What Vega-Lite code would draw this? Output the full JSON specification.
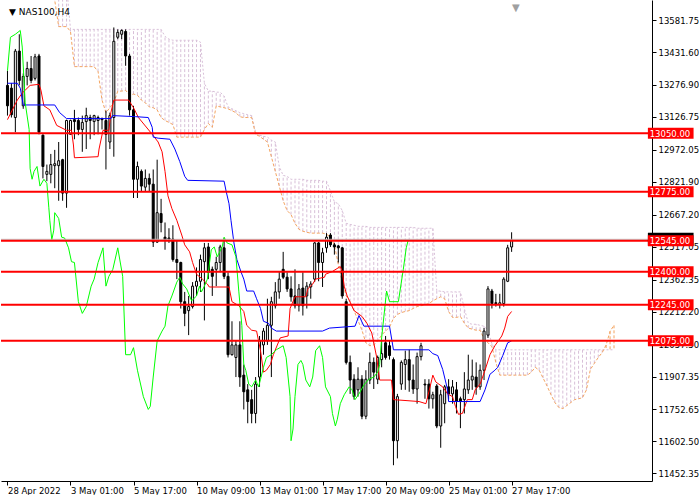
{
"$schema": "https://vega.github.io/schema/vega-lite/v6.json",
"width": 651, "height": 481, "padding": 0, "autosize": {"type": "pad"},
"background": "#FFFFFF",
"config": {"view": {"stroke": null}, "font": "DejaVu Sans"},
"resolve": {"axis": {"x": "independent", "y": "independent"}},
"datasets": {
"candles": [
{"i":0,"o":13275,"h":13344,"l":13133,"c":13179},
{"i":1,"o":13262,"h":13285,"l":13124,"c":13137},
{"i":2,"o":13124,"h":13446,"l":13055,"c":13436},
{"i":3,"o":13436,"h":13515,"l":13275,"c":13298},
{"i":4,"o":13179,"h":13331,"l":13165,"c":13317},
{"i":5,"o":13317,"h":13386,"l":13275,"c":13354},
{"i":6,"o":13354,"h":13413,"l":13285,"c":13298},
{"i":7,"o":13308,"h":13423,"l":13298,"c":13409},
{"i":8,"o":13413,"h":13423,"l":13045,"c":13055},
{"i":9,"o":13041,"h":13045,"l":12838,"c":12894},
{"i":10,"o":12857,"h":12903,"l":12825,"c":12871},
{"i":11,"o":12857,"h":12953,"l":12815,"c":12903},
{"i":12,"o":12898,"h":12972,"l":12792,"c":12907},
{"i":13,"o":12898,"h":13009,"l":12733,"c":12921},
{"i":14,"o":12926,"h":12930,"l":12733,"c":12769},
{"i":15,"o":12769,"h":13114,"l":12700,"c":13110},
{"i":16,"o":13045,"h":13114,"l":13045,"c":13110},
{"i":17,"o":13114,"h":13160,"l":13022,"c":13105},
{"i":18,"o":13110,"h":13124,"l":13041,"c":13068},
{"i":19,"o":13068,"h":13133,"l":12963,"c":13101},
{"i":20,"o":13105,"h":13170,"l":12976,"c":13133},
{"i":21,"o":13124,"h":13137,"l":13022,"c":13110},
{"i":22,"o":13105,"h":13137,"l":13041,"c":13133},
{"i":23,"o":13110,"h":13133,"l":13045,"c":13124},
{"i":24,"o":13119,"h":13124,"l":13068,"c":13114},
{"i":25,"o":13110,"h":13156,"l":12880,"c":13045},
{"i":26,"o":13009,"h":13147,"l":12976,"c":13133},
{"i":27,"o":13124,"h":13547,"l":12940,"c":13482},
{"i":28,"o":13501,"h":13538,"l":13492,"c":13524},
{"i":29,"o":13515,"h":13538,"l":13492,"c":13533},
{"i":30,"o":13528,"h":13538,"l":13367,"c":13413},
{"i":31,"o":13413,"h":13423,"l":13133,"c":13160},
{"i":32,"o":13160,"h":13179,"l":12746,"c":12834},
{"i":33,"o":12834,"h":12917,"l":12746,"c":12894},
{"i":34,"o":12871,"h":12880,"l":12779,"c":12802},
{"i":35,"o":12797,"h":12880,"l":12779,"c":12838},
{"i":36,"o":12838,"h":12861,"l":12779,"c":12811},
{"i":37,"o":12811,"h":12880,"l":12516,"c":12539},
{"i":38,"o":12539,"h":12926,"l":12535,"c":12677},
{"i":39,"o":12673,"h":12742,"l":12585,"c":12631},
{"i":40,"o":12562,"h":12631,"l":12503,"c":12549},
{"i":41,"o":12558,"h":12604,"l":12535,"c":12553},
{"i":42,"o":12553,"h":12618,"l":12447,"c":12457},
{"i":43,"o":12457,"h":12549,"l":12365,"c":12443},
{"i":44,"o":12443,"h":12447,"l":12227,"c":12259},
{"i":45,"o":12259,"h":12305,"l":12144,"c":12204},
{"i":46,"o":12217,"h":12286,"l":12102,"c":12236},
{"i":47,"o":12236,"h":12351,"l":12227,"c":12332},
{"i":48,"o":12332,"h":12420,"l":12286,"c":12355},
{"i":49,"o":12355,"h":12480,"l":12305,"c":12457},
{"i":50,"o":12447,"h":12535,"l":12171,"c":12512},
{"i":51,"o":12516,"h":12535,"l":12365,"c":12397},
{"i":52,"o":12411,"h":12424,"l":12286,"c":12378},
{"i":53,"o":12411,"h":12470,"l":12332,"c":12443},
{"i":54,"o":12443,"h":12526,"l":12397,"c":12516},
{"i":55,"o":12512,"h":12558,"l":12365,"c":12378},
{"i":56,"o":12378,"h":12397,"l":11997,"c":12010},
{"i":57,"o":12010,"h":12167,"l":12006,"c":12056},
{"i":58,"o":11997,"h":12075,"l":11905,"c":12056},
{"i":59,"o":12056,"h":12167,"l":11859,"c":11905},
{"i":60,"o":11914,"h":11964,"l":11753,"c":11836},
{"i":61,"o":11845,"h":11872,"l":11688,"c":11790},
{"i":62,"o":11799,"h":11845,"l":11688,"c":11734},
{"i":63,"o":11734,"h":11905,"l":11688,"c":11872},
{"i":64,"o":11905,"h":12098,"l":11859,"c":12075},
{"i":65,"o":12056,"h":12135,"l":12010,"c":12121},
{"i":66,"o":12075,"h":12273,"l":12056,"c":12148},
{"i":67,"o":12148,"h":12282,"l":11905,"c":12259},
{"i":68,"o":12240,"h":12351,"l":12227,"c":12305},
{"i":69,"o":12305,"h":12401,"l":12273,"c":12365},
{"i":70,"o":12411,"h":12493,"l":12365,"c":12374},
{"i":71,"o":12374,"h":12397,"l":12305,"c":12319},
{"i":72,"o":12319,"h":12378,"l":12259,"c":12282},
{"i":73,"o":12286,"h":12411,"l":12227,"c":12240},
{"i":74,"o":12240,"h":12342,"l":12213,"c":12319},
{"i":75,"o":12323,"h":12397,"l":12194,"c":12240},
{"i":76,"o":12286,"h":12351,"l":12227,"c":12332},
{"i":77,"o":12328,"h":12355,"l":12273,"c":12342},
{"i":78,"o":12365,"h":12539,"l":12351,"c":12535},
{"i":79,"o":12535,"h":12539,"l":12355,"c":12443},
{"i":80,"o":12443,"h":12512,"l":12328,"c":12489},
{"i":81,"o":12512,"h":12581,"l":12489,"c":12562},
{"i":82,"o":12572,"h":12581,"l":12516,"c":12526},
{"i":83,"o":12526,"h":12535,"l":12480,"c":12516},
{"i":84,"o":12521,"h":12526,"l":12443,"c":12512},
{"i":85,"o":12512,"h":12516,"l":12273,"c":12286},
{"i":86,"o":12259,"h":12273,"l":11964,"c":11974},
{"i":87,"o":11974,"h":12006,"l":11826,"c":11891},
{"i":88,"o":11895,"h":11918,"l":11799,"c":11813},
{"i":89,"o":11845,"h":11951,"l":11813,"c":11895},
{"i":90,"o":11895,"h":11914,"l":11707,"c":11721},
{"i":91,"o":11721,"h":11937,"l":11707,"c":11895},
{"i":92,"o":11891,"h":12020,"l":11872,"c":11974},
{"i":93,"o":11974,"h":11997,"l":11849,"c":11928},
{"i":94,"o":11895,"h":12006,"l":11872,"c":11997},
{"i":95,"o":11987,"h":12075,"l":11951,"c":12015},
{"i":96,"o":12066,"h":12098,"l":11987,"c":11997},
{"i":97,"o":12052,"h":12075,"l":11987,"c":12006},
{"i":98,"o":11987,"h":11997,"l":11491,"c":11606},
{"i":99,"o":11606,"h":11826,"l":11523,"c":11813},
{"i":100,"o":11872,"h":11983,"l":11845,"c":11974},
{"i":101,"o":11964,"h":12029,"l":11845,"c":11987},
{"i":102,"o":11987,"h":12033,"l":11836,"c":11891},
{"i":103,"o":11891,"h":11964,"l":11826,"c":11849},
{"i":104,"o":11849,"h":12020,"l":11780,"c":12001},
{"i":105,"o":12001,"h":12066,"l":11983,"c":12052},
{"i":106,"o":11872,"h":11895,"l":11803,"c":11868},
{"i":107,"o":11872,"h":11895,"l":11757,"c":11803},
{"i":108,"o":11803,"h":11836,"l":11757,"c":11822},
{"i":109,"o":11863,"h":11872,"l":11665,"c":11675},
{"i":110,"o":11675,"h":11845,"l":11573,"c":11822},
{"i":111,"o":11780,"h":11868,"l":11688,"c":11859},
{"i":112,"o":11859,"h":11895,"l":11799,"c":11826},
{"i":113,"o":11826,"h":11891,"l":11780,"c":11859},
{"i":114,"o":11845,"h":11882,"l":11734,"c":11790},
{"i":115,"o":11803,"h":11813,"l":11665,"c":11790},
{"i":116,"o":11799,"h":11928,"l":11734,"c":11849},
{"i":117,"o":11845,"h":12010,"l":11826,"c":11891},
{"i":118,"o":11891,"h":11987,"l":11845,"c":11909},
{"i":119,"o":11905,"h":11974,"l":11822,"c":11859},
{"i":120,"o":11859,"h":11964,"l":11845,"c":11937},
{"i":121,"o":11937,"h":12135,"l":11891,"c":12121},
{"i":122,"o":12102,"h":12332,"l":12089,"c":12319},
{"i":123,"o":12309,"h":12319,"l":12227,"c":12250},
{"i":124,"o":12254,"h":12296,"l":12236,"c":12250},
{"i":125,"o":12245,"h":12296,"l":12227,"c":12254},
{"i":126,"o":12250,"h":12374,"l":12236,"c":12365},
{"i":127,"o":12355,"h":12526,"l":12351,"c":12512},
{"i":128,"o":12516,"h":12585,"l":12493,"c":12549}
],
"tenkan": [
{"i":0,"p":13114},{"i":2.5,"p":13206},{"i":3.75,"p":13239},{"i":5.75,"p":13275},{"i":8,"p":13280},{"i":8.5,"p":13252},{"i":9.25,"p":13179},{"i":10.75,"p":13160},{"i":12.5,"p":13087},{"i":15,"p":13064},{"i":16.25,"p":13064},{"i":16.75,"p":12995},{"i":17,"p":12935},{"i":23,"p":12940},{"i":23.25,"p":12976},{"i":24.25,"p":13064},{"i":25.75,"p":13064},{"i":26.25,"p":13147},{"i":27,"p":13206},{"i":30.75,"p":13206},{"i":32,"p":13170},{"i":33.25,"p":13124},{"i":36.75,"p":13045},{"i":38.25,"p":13009},{"i":39.25,"p":12963},{"i":40,"p":12871},{"i":40.75,"p":12756},{"i":41.75,"p":12696},{"i":43,"p":12641},{"i":44.25,"p":12572},{"i":45,"p":12526},{"i":46.25,"p":12493},{"i":47,"p":12443},{"i":48,"p":12388},{"i":49.5,"p":12365},{"i":50.75,"p":12342},{"i":51.25,"p":12328},{"i":56.25,"p":12328},{"i":57,"p":12259},{"i":58.75,"p":12240},{"i":60,"p":12213},{"i":60.75,"p":12148},{"i":62,"p":12125},{"i":63.25,"p":12121},{"i":64.25,"p":12029},{"i":65,"p":11928},{"i":65.75,"p":11937},{"i":66.75,"p":11964},{"i":67.5,"p":12010},{"i":69.25,"p":12089},{"i":71.25,"p":12098},{"i":71.75,"p":12227},{"i":73,"p":12282},{"i":75.75,"p":12282},{"i":76.25,"p":12319},{"i":77.5,"p":12342},{"i":78.25,"p":12365},{"i":80.5,"p":12374},{"i":80.75,"p":12388},{"i":82.5,"p":12401},{"i":84.5,"p":12424},{"i":85,"p":12401},{"i":85.5,"p":12332},{"i":86.25,"p":12286},{"i":88,"p":12217},{"i":90,"p":12190},{"i":91.25,"p":12158},{"i":92.5,"p":12112},{"i":93.75,"p":11997},{"i":94.5,"p":11891},{"i":97.5,"p":11891},{"i":98,"p":11799},{"i":104.5,"p":11790},{"i":106.25,"p":11780},{"i":107,"p":11836},{"i":108,"p":11914},{"i":108.75,"p":11882},{"i":110.5,"p":11859},{"i":111.75,"p":11826},{"i":113,"p":11813},{"i":113.75,"p":11767},{"i":114.5,"p":11730},{"i":115.5,"p":11734},{"i":116.75,"p":11799},{"i":118,"p":11799},{"i":118.75,"p":11845},{"i":120,"p":11872},{"i":121.25,"p":11937},{"i":122.5,"p":12010},{"i":123.75,"p":12052},{"i":125.5,"p":12098},{"i":126.25,"p":12135},{"i":127,"p":12190},{"i":128,"p":12213}
],
"kijun": [
{"i":0,"p":13285},{"i":2.5,"p":13285},{"i":3.25,"p":13262},{"i":4,"p":13183},{"i":12,"p":13183},{"i":13.25,"p":13147},{"i":15,"p":13119},{"i":26.25,"p":13119},{"i":26.75,"p":13133},{"i":32.5,"p":13128},{"i":35.75,"p":13124},{"i":36.75,"p":13078},{"i":37,"p":13032},{"i":38.25,"p":13027},{"i":41.25,"p":13022},{"i":42.5,"p":12976},{"i":43.75,"p":12917},{"i":45,"p":12848},{"i":45.75,"p":12829},{"i":55,"p":12825},{"i":55.5,"p":12779},{"i":56.25,"p":12719},{"i":56.75,"p":12641},{"i":57.5,"p":12535},{"i":58.25,"p":12457},{"i":59.25,"p":12401},{"i":60,"p":12365},{"i":60.75,"p":12309},{"i":62.5,"p":12309},{"i":63.25,"p":12273},{"i":64.25,"p":12227},{"i":65,"p":12167},{"i":66.25,"p":12158},{"i":67,"p":12135},{"i":68.25,"p":12121},{"i":80,"p":12121},{"i":81.75,"p":12135},{"i":88.25,"p":12144},{"i":89.25,"p":12194},{"i":90.5,"p":12144},{"i":97,"p":12144},{"i":98,"p":12033},{"i":107,"p":12033},{"i":108,"p":12015},{"i":109.25,"p":12006},{"i":110.5,"p":11941},{"i":111.75,"p":11845},{"i":112,"p":11790},{"i":120,"p":11790},{"i":121.25,"p":11845},{"i":122.5,"p":11918},{"i":123.75,"p":11937},{"i":124.5,"p":11951},{"i":125.75,"p":12006},{"i":127,"p":12066},{"i":128,"p":12075}
],
"chikou": [
{"i":0,"p":13344},{"i":0.75,"p":13501},{"i":2,"p":13515},{"i":3.25,"p":13533},{"i":3.75,"p":13455},{"i":4.5,"p":13193},{"i":5.5,"p":13068},{"i":5.75,"p":12884},{"i":6.25,"p":12834},{"i":6.75,"p":12871},{"i":7.5,"p":12894},{"i":8.25,"p":12802},{"i":9.25,"p":12834},{"i":10,"p":12815},{"i":10.5,"p":12700},{"i":10.75,"p":12641},{"i":11.25,"p":12549},{"i":11.75,"p":12595},{"i":12,"p":12677},{"i":13,"p":12650},{"i":13.75,"p":12562},{"i":14.5,"p":12558},{"i":15.5,"p":12512},{"i":16.25,"p":12447},{"i":17,"p":12443},{"i":18,"p":12259},{"i":19,"p":12204},{"i":20,"p":12236},{"i":21.25,"p":12332},{"i":22,"p":12365},{"i":23,"p":12443},{"i":24.25,"p":12512},{"i":25,"p":12332},{"i":25.75,"p":12378},{"i":26.75,"p":12411},{"i":28,"p":12512},{"i":29.25,"p":12378},{"i":30,"p":12010},{"i":31.25,"p":12010},{"i":32,"p":12043},{"i":33,"p":11937},{"i":34.5,"p":11813},{"i":35.75,"p":11753},{"i":36.25,"p":11767},{"i":37,"p":11905},{"i":38,"p":12075},{"i":39.25,"p":12121},{"i":40,"p":12144},{"i":40.75,"p":12240},{"i":41.75,"p":12286},{"i":43,"p":12351},{"i":43.75,"p":12374},{"i":44.5,"p":12342},{"i":45.5,"p":12319},{"i":46.75,"p":12263},{"i":48,"p":12286},{"i":48.75,"p":12332},{"i":49.25,"p":12305},{"i":50,"p":12332},{"i":50.75,"p":12365},{"i":51.75,"p":12503},{"i":52.5,"p":12516},{"i":53.25,"p":12470},{"i":54.5,"p":12516},{"i":55,"p":12562},{"i":55.75,"p":12535},{"i":57,"p":12526},{"i":58,"p":12470},{"i":58.75,"p":12305},{"i":59.5,"p":12148},{"i":60,"p":11964},{"i":60.5,"p":11937},{"i":61.25,"p":11872},{"i":62,"p":11859},{"i":63,"p":11891},{"i":63.75,"p":11859},{"i":64.25,"p":11895},{"i":65,"p":11951},{"i":65.75,"p":11997},{"i":67,"p":12010},{"i":68.25,"p":12033},{"i":70,"p":12052},{"i":70.75,"p":11997},{"i":71.75,"p":11813},{"i":72,"p":11606},{"i":72.5,"p":11661},{"i":73,"p":11813},{"i":73.75,"p":11964},{"i":74.5,"p":11983},{"i":75,"p":11964},{"i":75.75,"p":11891},{"i":76.75,"p":11859},{"i":77.5,"p":11905},{"i":78.25,"p":12029},{"i":79.25,"p":12052},{"i":80,"p":11997},{"i":80.75,"p":11859},{"i":82,"p":11813},{"i":82.5,"p":11734},{"i":83.25,"p":11675},{"i":83.75,"p":11707},{"i":84.5,"p":11780},{"i":85.5,"p":11822},{"i":86.75,"p":11859},{"i":87.5,"p":11845},{"i":88.25,"p":11799},{"i":89.25,"p":11826},{"i":90.5,"p":11868},{"i":91.75,"p":11895},{"i":93,"p":11905},{"i":94,"p":11928},{"i":94.5,"p":11964},{"i":95,"p":12089},{"i":96.25,"p":12309},{"i":97,"p":12259},{"i":99.25,"p":12259},{"i":100.5,"p":12411},{"i":101.25,"p":12512},{"i":101.75,"p":12549}
],
"cloud": [
{"i":0,"a":13745,"b":13790},{"i":1,"a":13745,"b":13790},{"i":2,"a":13745,"b":13790},{"i":3,"a":13745,"b":13790},{"i":4,"a":13745,"b":13790},{"i":5,"a":13745,"b":13790},{"i":6,"a":13745,"b":13790},{"i":7,"a":13745,"b":13790},{"i":8,"a":13745,"b":13790},{"i":9,"a":13745,"b":13790},{"i":10,"a":13745,"b":13790},{"i":11,"a":13745,"b":13790},{"i":12,"a":13675,"b":13790},
{"i":13,"a":13551,"b":13745},{"i":14,"a":13551,"b":13745},{"i":15,"a":13551,"b":13745},{"i":16,"a":13528,"b":13538},{"i":17,"a":13363,"b":13538},{"i":18,"a":13363,"b":13538},{"i":19,"a":13363,"b":13538},{"i":20,"a":13363,"b":13538},{"i":21,"a":13363,"b":13538},{"i":22,"a":13363,"b":13538},{"i":23,"a":13340,"b":13538},{"i":24,"a":13206,"b":13538},{"i":25,"a":13147,"b":13538},{"i":26,"a":13170,"b":13538},{"i":27,"a":13193,"b":13538},{"i":28,"a":13248,"b":13538},{"i":29,"a":13248,"b":13538},{"i":30,"a":13252,"b":13538},{"i":31,"a":13229,"b":13538},{"i":32,"a":13234,"b":13538},{"i":33,"a":13229,"b":13538},{"i":34,"a":13206,"b":13538},{"i":35,"a":13193,"b":13538},{"i":36,"a":13174,"b":13538},{"i":37,"a":13170,"b":13538},{"i":38,"a":13160,"b":13538},{"i":39,"a":13124,"b":13538},{"i":40,"a":13110,"b":13505},{"i":41,"a":13101,"b":13492},{"i":42,"a":13091,"b":13487},{"i":43,"a":13032,"b":13487},{"i":44,"a":13032,"b":13487},{"i":45,"a":13032,"b":13487},{"i":46,"a":13032,"b":13487},{"i":47,"a":13032,"b":13487},{"i":48,"a":13032,"b":13487},{"i":49,"a":13032,"b":13478},
{"i":50,"a":13068,"b":13285},{"i":51,"a":13096,"b":13248},{"i":52,"a":13078,"b":13248},{"i":53,"a":13179,"b":13243},{"i":54,"a":13174,"b":13243},{"i":55,"a":13170,"b":13225},{"i":56,"a":13165,"b":13174},{"i":57,"a":13156,"b":13165},{"i":58,"a":13147,"b":13156},{"i":59,"a":13128,"b":13147},{"i":60,"a":13124,"b":13142},{"i":61,"a":13124,"b":13137},{"i":62,"a":13124,"b":13133},{"i":63,"a":13045,"b":13055},{"i":64,"a":13036,"b":13041},{"i":65,"a":13022,"b":13036},{"i":66,"a":13009,"b":13032},{"i":67,"a":12940,"b":13018},{"i":68,"a":12871,"b":13009},{"i":69,"a":12802,"b":12894},{"i":70,"a":12733,"b":12852},{"i":71,"a":12687,"b":12848},{"i":72,"a":12668,"b":12834},{"i":73,"a":12627,"b":12834},{"i":74,"a":12599,"b":12834},{"i":75,"a":12590,"b":12834},{"i":76,"a":12585,"b":12829},{"i":77,"a":12581,"b":12829},{"i":78,"a":12581,"b":12829},{"i":79,"a":12581,"b":12829},{"i":80,"a":12581,"b":12825},{"i":81,"a":12576,"b":12825},{"i":82,"a":12562,"b":12779},{"i":83,"a":12526,"b":12728},{"i":84,"a":12434,"b":12719},{"i":85,"a":12351,"b":12687},{"i":86,"a":12286,"b":12627},{"i":87,"a":12259,"b":12622},{"i":88,"a":12217,"b":12618},{"i":89,"a":12171,"b":12613},{"i":90,"a":12125,"b":12613},{"i":91,"a":12066,"b":12613},{"i":92,"a":12052,"b":12608},{"i":93,"a":12056,"b":12608},{"i":94,"a":12075,"b":12608},{"i":95,"a":12102,"b":12608},{"i":96,"a":12121,"b":12608},{"i":97,"a":12139,"b":12608},{"i":98,"a":12181,"b":12608},{"i":99,"a":12199,"b":12608},{"i":100,"a":12208,"b":12608},{"i":101,"a":12213,"b":12608},{"i":102,"a":12217,"b":12608},{"i":103,"a":12227,"b":12608},{"i":104,"a":12236,"b":12604},{"i":105,"a":12240,"b":12604},{"i":106,"a":12245,"b":12604},{"i":107,"a":12250,"b":12604},{"i":108,"a":12263,"b":12604},
{"i":109,"a":12273,"b":12309},{"i":110,"a":12282,"b":12309},{"i":111,"a":12273,"b":12305},{"i":112,"a":12213,"b":12305},{"i":113,"a":12185,"b":12305},{"i":114,"a":12185,"b":12305},{"i":115,"a":12190,"b":12305},{"i":116,"a":12158,"b":12227},{"i":117,"a":12135,"b":12158},{"i":118,"a":12130,"b":12153},{"i":119,"a":12125,"b":12153},{"i":120,"a":12125,"b":12148},{"i":121,"a":12084,"b":12144},{"i":122,"a":12066,"b":12125},{"i":123,"a":12047,"b":12061},{"i":124,"a":11974,"b":12033},{"i":125,"a":11914,"b":12033},{"i":126,"a":11914,"b":12033},{"i":127,"a":11914,"b":12033},{"i":128,"a":11914,"b":12033},{"i":129,"a":11914,"b":12033},{"i":130,"a":11914,"b":12033},{"i":131,"a":11914,"b":12033},{"i":132,"a":11914,"b":12033},{"i":133,"a":11928,"b":12033},{"i":134,"a":11951,"b":12033},{"i":135,"a":11937,"b":12033},{"i":136,"a":11900,"b":12033},{"i":137,"a":11863,"b":12033},{"i":138,"a":11822,"b":12033},{"i":139,"a":11785,"b":12033},{"i":140,"a":11762,"b":12033},{"i":141,"a":11757,"b":12033},{"i":142,"a":11771,"b":12033},{"i":143,"a":11785,"b":12033},{"i":144,"a":11799,"b":12033},{"i":145,"a":11803,"b":12033},{"i":146,"a":11808,"b":12033},{"i":147,"a":11845,"b":12033},{"i":148,"a":11941,"b":12033},{"i":149,"a":11969,"b":12033},{"i":150,"a":11997,"b":12033},{"i":151,"a":12020,"b":12033},{"i":152,"a":12056,"b":12033},{"i":153,"a":12120,"b":12033},{"i":154,"a":12148,"b":12033}
],
"levels": [
{"level":13050,"label":"13050.00"},{"level":12775,"label":"12775.00"},{"level":12545,"label":"12545.00"},{"level":12400,"label":"12400.00"},{"level":12245,"label":"12245.00"},{"level":12075,"label":"12075.00"}
],
"bid": [{"p":12552}],
"title": [{"t":"▼  NAS100,H4"}],
"marker": [{"t":"▼"}]
},
"layer": [
{"data":{"name":"cloud"},
 "mark":{"type":"rule","strokeDash":[3,2],"strokeWidth":1,"clip":true},
 "encoding":{
  "x":{"field":"i","type":"quantitative","scale":{"domain":[-0.375,162.375],"nice":false,"zero":false},
       "axis":{"orient":"bottom","values":[0,16,32,48,64,80,96,112,128],
               "labelExpr":"['28 Apr 2022','3 May 01:00','5 May 17:00','10 May 09:00','13 May 01:00','17 May 17:00','20 May 09:00','25 May 01:00','27 May 17:00'][datum.value/16]",
               "labelAlign":"left","labelPadding":1,"title":null,"grid":false,"tickSize":4,"tickColor":"#000000","domainColor":"#000000","labelColor":"#000000","labelFont":"DejaVu Sans","labelFontSize":8.5,"labelOverlap":false,"labelFlush":false,"labelBound":false}},
  "y":{"field":"a","type":"quantitative","scale":{"domain":[11440.3,13652.5],"nice":false,"zero":false},
       "axis":{"orient":"right","values":[11452.35,11602.5,11752.65,11907.35,12057.5,12212.2,12362.35,12517.05,12667.2,12821.9,12972.05,13126.75,13276.9,13431.6,13581.75],
               "format":".2f","title":null,"grid":false,"tickSize":4,"tickColor":"#000000","domainColor":"#000000","labelColor":"#000000","labelFont":"DejaVu Sans","labelFontSize":8.5,"labelPadding":2,"labelOverlap":false,"labelFlush":false,"labelBound":false}},
  "y2":{"field":"b"},
  "color":{"condition":{"test":"datum.a > datum.b","value":"#F4A460"},"value":"#D8BFD8"}
 }},
{"data":{"name":"cloud"},
 "mark":{"type":"line","color":"#D8BFD8","strokeWidth":1,"strokeDash":[2,2],"clip":true},
 "encoding":{
  "x":{"field":"i","type":"quantitative","scale":{"domain":[-0.375,162.375],"nice":false,"zero":false},"axis":null},
  "y":{"field":"b","type":"quantitative","scale":{"domain":[11440.3,13652.5],"nice":false,"zero":false},"axis":null}
 }},
{"data":{"name":"cloud"},
 "mark":{"type":"line","color":"#F4A460","strokeWidth":1,"strokeDash":[3,2],"clip":true},
 "encoding":{
  "x":{"field":"i","type":"quantitative","scale":{"domain":[-0.375,162.375],"nice":false,"zero":false},"axis":null},
  "y":{"field":"a","type":"quantitative","scale":{"domain":[11440.3,13652.5],"nice":false,"zero":false},"axis":null}
 }},
{"data":{"name":"candles"},
 "mark":{"type":"rule","color":"#000000","strokeWidth":1},
 "encoding":{
  "x":{"field":"i","type":"quantitative","scale":{"domain":[-0.375,162.375],"nice":false,"zero":false},"axis":null},
  "y":{"field":"l","type":"quantitative","scale":{"domain":[11440.3,13652.5],"nice":false,"zero":false},"axis":null},
  "y2":{"field":"h"}
 }},
{"data":{"name":"candles"},
 "mark":{"type":"bar","width":2,"stroke":"#000000","strokeWidth":1},
 "encoding":{
  "x":{"field":"i","type":"quantitative","scale":{"domain":[-0.375,162.375],"nice":false,"zero":false},"axis":null},
  "y":{"field":"o","type":"quantitative","scale":{"domain":[11440.3,13652.5],"nice":false,"zero":false},"axis":null},
  "y2":{"field":"c"},
  "fill":{"condition":{"test":"datum.c >= datum.o","value":"#FFFFFF"},"value":"#000000"}
 }},
{"data":{"name":"tenkan"},
 "mark":{"type":"line","color":"#FF0000","strokeWidth":1},
 "encoding":{
  "x":{"field":"i","type":"quantitative","scale":{"domain":[-0.375,162.375],"nice":false,"zero":false},"axis":null},
  "y":{"field":"p","type":"quantitative","scale":{"domain":[11440.3,13652.5],"nice":false,"zero":false},"axis":null}
 }},
{"data":{"name":"kijun"},
 "mark":{"type":"line","color":"#0000FF","strokeWidth":1},
 "encoding":{
  "x":{"field":"i","type":"quantitative","scale":{"domain":[-0.375,162.375],"nice":false,"zero":false},"axis":null},
  "y":{"field":"p","type":"quantitative","scale":{"domain":[11440.3,13652.5],"nice":false,"zero":false},"axis":null}
 }},
{"data":{"name":"chikou"},
 "mark":{"type":"line","color":"#00FF00","strokeWidth":1},
 "encoding":{
  "x":{"field":"i","type":"quantitative","scale":{"domain":[-0.375,162.375],"nice":false,"zero":false},"axis":null},
  "y":{"field":"p","type":"quantitative","scale":{"domain":[11440.3,13652.5],"nice":false,"zero":false},"axis":null}
 }},
{"data":{"name":"bid"},
 "mark":{"type":"rule","color":"#C0C0C0","strokeWidth":1},
 "encoding":{
  "y":{"field":"p","type":"quantitative","scale":{"domain":[11440.3,13652.5],"nice":false,"zero":false},"axis":null}
 }},
{"data":{"name":"levels"},
 "mark":{"type":"rule","color":"#FF0000","strokeWidth":2},
 "encoding":{
  "y":{"field":"level","type":"quantitative","scale":{"domain":[11440.3,13652.5],"nice":false,"zero":false},"axis":null}
 }},
{"data":{"name":"bid"},
 "mark":{"type":"bar","orient":"horizontal","height":13,"color":"#000000"},
 "encoding":{
  "x":{"datum":162.6,"type":"quantitative","scale":{"domain":[-0.375,162.375],"nice":false,"zero":false},"axis":null},
  "x2":{"datum":174.2},
  "y":{"field":"p","type":"quantitative","scale":{"domain":[11440.3,13652.5],"nice":false,"zero":false},"axis":null}
 }},
{"data":{"name":"levels"},
 "mark":{"type":"bar","orient":"horizontal","height":11,"color":"#FF0000"},
 "encoding":{
  "x":{"datum":162.6,"type":"quantitative","scale":{"domain":[-0.375,162.375],"nice":false,"zero":false},"axis":null},
  "x2":{"datum":174.2},
  "y":{"field":"level","type":"quantitative","scale":{"domain":[11440.3,13652.5],"nice":false,"zero":false},"axis":null}
 }},
{"data":{"name":"levels"},
 "mark":{"type":"text","color":"#FFFFFF","align":"left","baseline":"middle","font":"DejaVu Sans","fontSize":8.5,"dy":0.5},
 "encoding":{
  "x":{"datum":163.05,"type":"quantitative","scale":{"domain":[-0.375,162.375],"nice":false,"zero":false},"axis":null},
  "y":{"field":"level","type":"quantitative","scale":{"domain":[11440.3,13652.5],"nice":false,"zero":false},"axis":null},
  "text":{"field":"label"}
 }},
{"data":{"name":"title"},
 "mark":{"type":"text","color":"#000000","align":"left","baseline":"middle","font":"DejaVu Sans","fontSize":9},
 "encoding":{
  "x":{"datum":0.4,"type":"quantitative","scale":{"domain":[-0.375,162.375],"nice":false,"zero":false},"axis":null},
  "y":{"datum":13620,"type":"quantitative","scale":{"domain":[11440.3,13652.5],"nice":false,"zero":false},"axis":null},
  "text":{"field":"t"}
 }},
{"data":{"name":"marker"},
 "mark":{"type":"text","color":"#A0A0A0","align":"center","baseline":"middle","font":"DejaVu Sans","fontSize":10,"clip":true},
 "encoding":{
  "x":{"datum":129.1,"type":"quantitative","scale":{"domain":[-0.375,162.375],"nice":false,"zero":false},"axis":null},
  "y":{"datum":13640,"type":"quantitative","scale":{"domain":[11440.3,13652.5],"nice":false,"zero":false},"axis":null},
  "text":{"field":"t"}
 }}
]
}
